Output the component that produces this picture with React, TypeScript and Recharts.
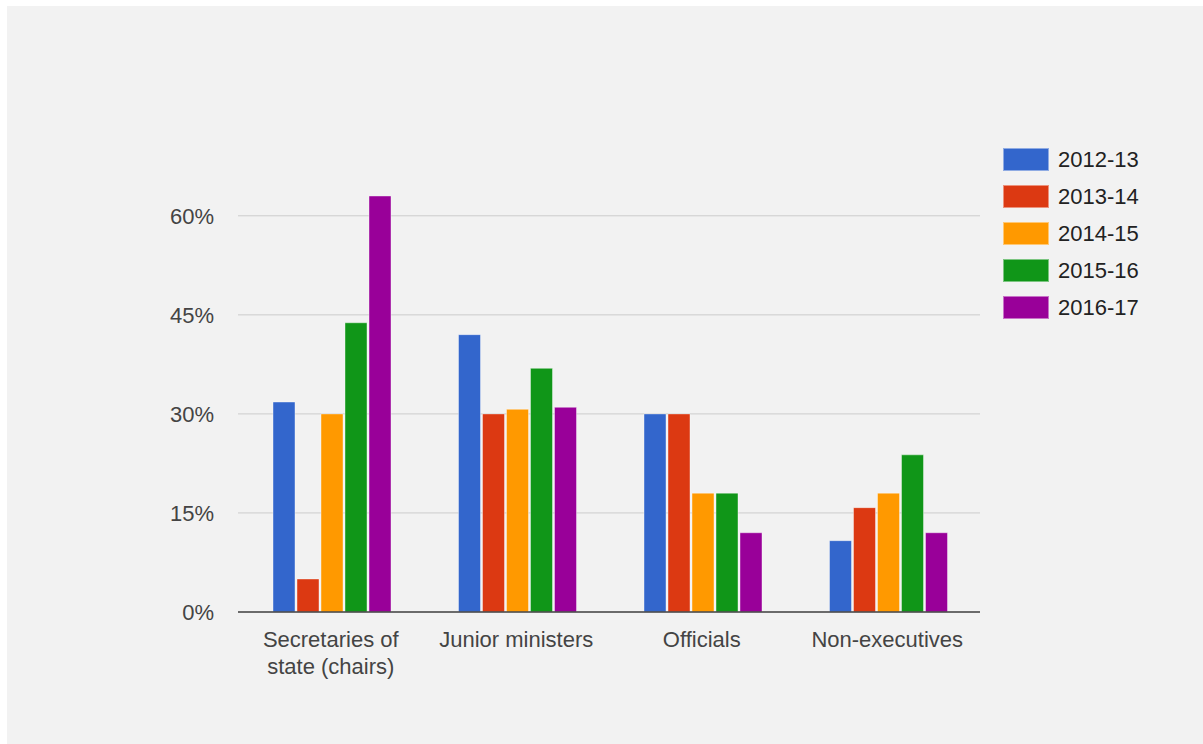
import { BarChart, Bar, XAxis, YAxis, CartesianGrid, Legend } from 'recharts'

const categories = [
  'Secretaries of state (chairs)',
  'Junior ministers',
  'Officials',
  'Non-executives',
]

const seriesNames = ['2012-13', '2013-14', '2014-15', '2015-16', '2016-17']
const seriesColors = ['#3366cc', '#dc3912', '#ff9900', '#109618', '#990099']

const values2012 = [31.8, 42, 30, 10.8]
const values2013 = [5, 30, 30, 15.8]
const values2014 = [30, 30.7, 18, 18]
const values2015 = [43.8, 36.9, 18, 23.8]
const values2016 = [63, 31, 12, 12]

const yTicks = [0, 15, 30, 45, 60]

const allValues = [values2012, values2013, values2014, values2015, values2016]

const data = categories.map((name, i) => {
  const row: Record<string, string | number> = { name }
  seriesNames.forEach((s, j) => {
    row[s] = allValues[j][i]
  })
  return row
})

const FONT = "Arial, 'Liberation Sans', sans-serif"

// greedy wrap, roughly 16 chars per line fits the band
function wrap(text: string, max = 16) {
  const words = text.split(' ')
  const lines: string[] = []
  let cur = ''
  for (const w of words) {
    const next = cur ? cur + ' ' + w : w
    if (next.length > max && cur) {
      lines.push(cur)
      cur = w
    } else {
      cur = next
    }
  }
  if (cur) lines.push(cur)
  return lines
}

function CategoryTick(props: any) {
  const { x, y, payload } = props
  const lines = wrap(String(payload.value))
  return (
    <text x={x} y={y} textAnchor="middle" fill="#444" fontSize={22} fontFamily={FONT}>
      {lines.map((l, i) => (
        <tspan key={i} x={x} dy={i === 0 ? '0.71em' : 27}>
          {l}
        </tspan>
      ))}
    </text>
  )
}

function SideLegend() {
  return (
    <div style={{ display: 'flex', flexDirection: 'column', gap: 14 }}>
      {seriesNames.map((s, i) => (
        <div key={s} style={{ display: 'flex', alignItems: 'center', height: 23 }}>
          <span
            style={{
              width: 44,
              height: 21,
              background: seriesColors[i],
              border: '1px solid rgba(255,255,255,0.45)',
              display: 'inline-block',
            }}
          />
          <span style={{ marginLeft: 9, fontSize: 22, color: '#222', fontFamily: FONT }}>{s}</span>
        </div>
      ))}
    </div>
  )
}

export default function App() {
  return (
    <div
      style={{
        position: 'absolute',
        left: 7,
        top: 6,
        width: 1196,
        height: 738,
        background: '#f2f2f2',
        fontFamily: FONT,
      }}
    >
      <BarChart
        width={1196}
        height={738}
        data={data}
        margin={{ top: 190, right: 223, bottom: 72, left: 151 }}
        barCategoryGap={35}
        barGap={2}
      >
        <CartesianGrid horizontal vertical={false} stroke="#cccccc" syncWithTicks />
        <XAxis
          dataKey="name"
          height={60}
          axisLine={{ stroke: '#444', strokeWidth: 1.5 }}
          tickLine={false}
          tickSize={0}
          tickMargin={19}
          interval={0}
          tick={<CategoryTick />}
        />
        <YAxis
          width={80}
          domain={[0, 63]}
          ticks={yTicks}
          allowDataOverflow
          axisLine={false}
          tickLine={false}
          tickSize={0}
          tickMargin={24}
          tickFormatter={(v: number) => `${v}%`}
          tick={{ fill: '#444', fontSize: 22, fontFamily: FONT }}
        />
        <Legend
          layout="vertical"
          align="center"
          verticalAlign="middle"
          wrapperStyle={{ left: 996, top: 142, width: 180 }}
          content={() => <SideLegend />}
        />
        {seriesNames.map((s, i) => (
          <Bar
            key={s}
            dataKey={s}
            fill={seriesColors[i]}
            stroke="rgba(255,255,255,0.4)"
            strokeWidth={1}
            isAnimationActive={false}
          />
        ))}
      </BarChart>
    </div>
  )
}
